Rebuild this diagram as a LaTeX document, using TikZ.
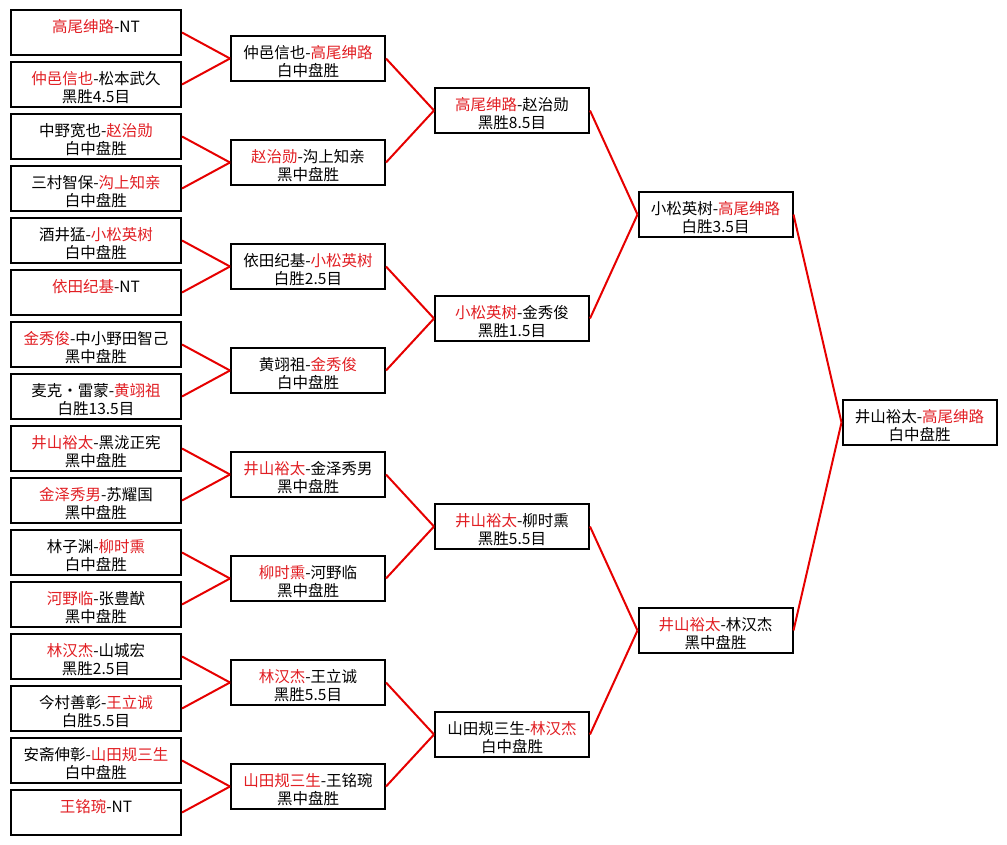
\documentclass[tikz,border=0pt]{standalone}
\usepackage{fontspec}
\newfontfamily\cjk{Noto Sans CJK SC}
\definecolor{winred}{RGB}{225,30,35}
\definecolor{linkred}{RGB}{230,0,0}
\newcommand{\win}[1]{\textcolor{winred}{#1}}

\begin{document}
\begin{tikzpicture}[x=1pt,y=-1pt,
  game node/.style={rectangle,draw,line width=2pt,minimum height=45pt,inner sep=0pt,align=center,
    font=\cjk\fontsize{15.5}{18.5}\selectfont,execute at begin node=\rule{0pt}{38pt}},
  first node/.style={game node,minimum width=170pt},
  round node/.style={game node,minimum width=154pt}]
  \useasboundingbox (0,0) rectangle (1007,845);

  % first round
  \node[first node] (16) at (96,32.5)  {\win{高尾绅路}-NT\\\phantom{白}};
  \node[first node] (17) at (96,84.5)  {\win{仲邑信也}-松本武久\\黑胜4.5目};
  \node[first node] (18) at (96,136.5) {中野宽也-\win{赵治勋}\\白中盘胜};
  \node[first node] (19) at (96,188.5) {三村智保-\win{沟上知亲}\\白中盘胜};
  \node[first node] (20) at (96,240.5) {酒井猛-\win{小松英树}\\白中盘胜};
  \node[first node] (21) at (96,292.5) {\win{依田纪基}-NT\\\phantom{白}};
  \node[first node] (22) at (96,344.5) {\win{金秀俊}-中小野田智己\\黑中盘胜};
  \node[first node] (23) at (96,396.5) {麦克・雷蒙-\win{黄翊祖}\\白胜13.5目};
  \node[first node] (24) at (96,448.5) {\win{井山裕太}-黑泷正宪\\黑中盘胜};
  \node[first node] (25) at (96,500.5) {\win{金泽秀男}-苏耀国\\黑中盘胜};
  \node[first node] (26) at (96,552.5) {林子渊-\win{柳时熏}\\白中盘胜};
  \node[first node] (27) at (96,604.5) {\win{河野临}-张豊猷\\黑中盘胜};
  \node[first node] (28) at (96,656.5) {\win{林汉杰}-山城宏\\黑胜2.5目};
  \node[first node] (29) at (96,708.5) {今村善彰-\win{王立诚}\\白胜5.5目};
  \node[first node] (30) at (96,760.5) {安斋伸彰-\win{山田规三生}\\白中盘胜};
  \node[first node] (31) at (96,812.5) {\win{王铭琬}-NT\\\phantom{白}};

  % second round
  \node[round node] (8)  at (308,58.5)  {仲邑信也-\win{高尾绅路}\\白中盘胜};
  \node[round node] (9)  at (308,162.5) {\win{赵治勋}-沟上知亲\\黑中盘胜};
  \node[round node] (10) at (308,266.5) {依田纪基-\win{小松英树}\\白胜2.5目};
  \node[round node] (11) at (308,370.5) {黄翊祖-\win{金秀俊}\\白中盘胜};
  \node[round node] (12) at (308,474.5) {\win{井山裕太}-金泽秀男\\黑中盘胜};
  \node[round node] (13) at (308,578.5) {\win{柳时熏}-河野临\\黑中盘胜};
  \node[round node] (14) at (308,682.5) {\win{林汉杰}-王立诚\\黑胜5.5目};
  \node[round node] (15) at (308,786.5) {\win{山田规三生}-王铭琬\\黑中盘胜};

  % quarter finals
  \node[round node] (4) at (512,110.5) {\win{高尾绅路}-赵治勋\\黑胜8.5目};
  \node[round node] (5) at (512,318.5) {\win{小松英树}-金秀俊\\黑胜1.5目};
  \node[round node] (6) at (512,526.5) {\win{井山裕太}-柳时熏\\黑胜5.5目};
  \node[round node] (7) at (512,734.5) {山田规三生-\win{林汉杰}\\白中盘胜};

  % semi finals and final
  \node[round node] (2) at (715.5,214.5) {小松英树-\win{高尾绅路}\\白胜3.5目};
  \node[round node] (3) at (715.5,630.5) {\win{井山裕太}-林汉杰\\黑中盘胜};
  \node[round node] (1) at (919.5,422.5) {井山裕太-\win{高尾绅路}\\白中盘胜};

\path[draw=linkred,line width=2pt]
  (16.east) edge (8.west)   (17.east) edge (8.west)
  (18.east) edge (9.west)   (19.east) edge (9.west)
  (20.east) edge (10.west)  (21.east) edge (10.west)
  (22.east) edge (11.west)  (23.east) edge (11.west)
  (24.east) edge (12.west)  (25.east) edge (12.west)
  (26.east) edge (13.west)  (27.east) edge (13.west)
  (28.east) edge (14.west)  (29.east) edge (14.west)
  (30.east) edge (15.west)  (31.east) edge (15.west)
  (8.east) edge (4.west)    (9.east) edge (4.west)
  (10.east) edge (5.west)   (11.east) edge (5.west)
  (12.east) edge (6.west)   (13.east) edge (6.west)
  (14.east) edge (7.west)   (15.east) edge (7.west)
  (4.east) edge (2.west)    (5.east) edge (2.west)
  (6.east) edge (3.west)    (7.east) edge (3.west)
  (2.east) edge (1.west)    (3.east) edge (1.west)
;
\end{tikzpicture}
\end{document}
